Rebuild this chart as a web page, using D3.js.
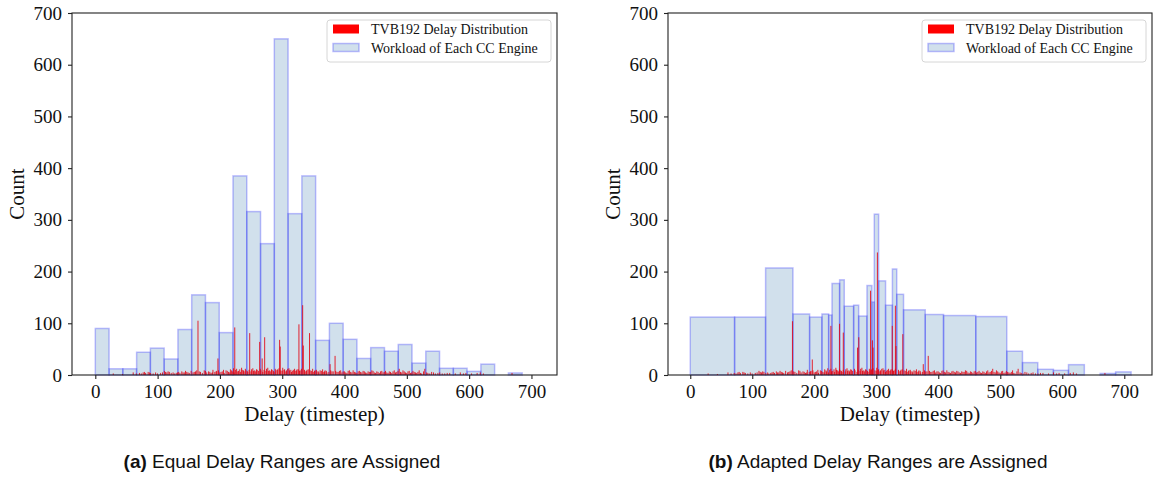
<!DOCTYPE html>
<html lang="en">
<head>
  <meta charset="UTF-8">
  <title>Delay ranges</title>
  <style>
    body { margin: 0; background: white; }
    text { fill: #111; }
  </style>
</head>
<body>
  <svg id="svg" width="1153" height="477"></svg>
  <script src="https://d3js.org/d3.v7.min.js"></script>
  <script>
    // (a) equal ranges: bins of fixed width starting at 0
    const equalBinWidth = 22.1
    const equalCounts = [90, 12, 12, 44, 52, 31, 88, 155, 140, 82, 385, 316, 254, 650, 312, 385,
      67, 100, 69, 32, 53, 46, 59, 23, 46, 13, 13, 7, 21, 0, 4]

    // (b) adapted ranges: variable bin edges
    const adaptedEdges = [0, 71.5, 121.5, 165.6, 192.5, 212.4, 223.2, 228.6, 240.9, 248.4, 263.5,
      271.6, 285, 293, 296.8, 303.8, 315, 326, 333, 344, 379, 408.5, 460.5, 510.5, 535.8, 560.5,
      585.7, 610, 635.6, 661, 686, 711]
    const adaptedCounts = [112, 112, 207, 118, 112, 118, 116, 177, 184, 133, 135, 114, 173, 141,
      311, 182, 135, 205, 156, 126, 117, 115, 113, 46, 24, 11, 9, 20, 0, 3, 6]

    // TVB192 delay distribution (per timestep): small background spikes [delay, count]
    const smallSpikes = [
      [28, 3], [43, 2], [60, 5], [65, 3], [70, 4], [73, 3], [76, 5], [78, 6], [80, 4], [84, 6], [86, 5],
      [88, 4], [92, 3], [96, 5], [99, 3], [104, 4], [107, 5], [110, 8], [112, 6], [114, 5], [116, 7],
      [118, 6], [121, 4], [124, 5], [126, 3], [129, 4], [131, 5], [133, 6], [135, 4], [138, 7], [140, 5],
      [142, 5], [144, 8], [146, 6], [148, 5], [150, 4], [153, 8], [156, 5], [158, 6], [160, 7], [162, 9],
      [166, 7], [168, 6], [171, 4], [174, 9], [176, 8], [178, 5], [181, 7], [183, 6], [185, 4], [187, 5],
      [188, 10], [191, 6], [193, 7], [194, 8], [197, 9], [199, 5], [201, 6], [203, 7], [205, 10], [206, 4],
      [209, 9], [211, 8], [213, 6], [215, 5], [216, 11], [218, 9], [219, 7], [221, 13], [222, 5], [224, 10],
      [226, 12], [227, 7], [229, 8], [231, 11], [232, 6], [234, 14], [235, 10], [237, 9], [238, 7], [240, 12],
      [241, 9], [243, 8], [244, 6], [246, 10], [249, 7], [250, 11], [252, 13], [253, 8], [255, 9], [256, 7],
      [258, 11], [259, 10], [261, 8], [264, 12], [265, 9], [268, 6], [270, 10], [273, 8], [274, 12], [276, 14],
      [277, 8], [279, 9], [280, 7], [282, 11], [283, 10], [285, 8], [286, 6], [288, 12], [289, 9], [291, 10],
      [292, 11], [294, 13], [297, 9], [299, 8], [300, 14], [302, 10], [303, 11], [305, 7], [306, 9], [308, 12],
      [310, 13], [311, 9], [313, 10], [314, 6], [316, 8], [317, 10], [319, 12], [320, 8], [322, 9], [323, 11],
      [325, 11], [327, 8], [328, 9], [330, 12], [335, 10], [336, 7], [338, 8], [339, 10], [341, 11], [344, 9],
      [346, 8], [348, 12], [349, 6], [351, 8], [352, 9], [354, 10], [355, 7], [357, 7], [358, 5], [360, 9],
      [362, 8], [364, 11], [365, 6], [367, 7], [368, 9], [370, 8], [371, 5], [374, 6], [377, 9], [379, 7],
      [381, 7], [385, 8], [387, 6], [389, 6], [391, 8], [393, 9], [395, 5], [397, 7], [399, 7], [401, 5],
      [403, 4], [405, 8], [407, 9], [409, 6], [411, 5], [413, 9], [415, 6], [417, 5], [419, 4], [421, 7],
      [423, 8], [425, 6], [427, 5], [429, 8], [431, 7], [433, 5], [435, 4], [437, 7], [439, 6], [441, 6],
      [443, 9], [445, 8], [447, 5], [449, 4], [451, 7], [453, 6], [455, 4], [457, 7], [459, 8], [461, 5],
      [463, 6], [465, 8], [467, 5], [469, 4], [471, 7], [473, 6], [475, 4], [477, 7], [479, 9], [481, 5],
      [483, 6], [485, 8], [487, 12], [489, 6], [491, 5], [493, 9], [495, 7], [497, 5], [499, 4], [501, 7],
      [503, 8], [505, 4], [507, 5], [509, 8], [511, 6], [513, 5], [515, 4], [517, 6], [519, 9], [521, 4],
      [523, 3], [526, 7], [528, 12], [531, 5], [533, 4], [536, 3], [539, 6], [542, 5], [545, 3], [549, 4],
      [552, 5], [556, 3], [560, 3], [564, 4], [568, 4], [577, 3], [585, 5], [590, 3], [594, 4], [603, 3],
      [612, 4], [617, 5], [622, 3], [668, 4]
    ]

    // tall spikes, as seen in each panel
    const spikeDelaysA = [164, 196, 223, 247, 263, 267, 271, 295, 296, 326, 332, 333, 343, 376, 384]
    const spikeCountsA = [105, 32, 92, 81, 64, 32, 73, 68, 55, 98, 135, 57, 81, 21, 37]
    const spikeDelaysB = [164, 196, 226, 240, 246, 269, 271, 290, 293, 294, 301, 325, 330, 331, 342, 375, 383]
    const spikeCountsB = [104, 30, 95, 99, 82, 53, 73, 163, 67, 53, 237, 95, 134, 56, 79, 21, 37]

    const yTicks = [0, 100, 200, 300, 400, 500, 600, 700]
    const xTicks = [0, 100, 200, 300, 400, 500, 600, 700]
    const legendLabels = ['TVB192 Delay Distribution', 'Workload of Each CC Engine']

    const svg = d3.select('#svg')
    const serif = 'Liberation Serif, DejaVu Serif, serif'

    function panel(opt) {
      const x = d3.scaleLinear().domain(opt.xDomain).range([opt.left, opt.right])
      const y = d3.scaleLinear().domain([0, 700]).range([375, 13])
      const g = svg.append('g')

      // workload bars
      g.selectAll('rect.work')
        .data(opt.bins)
        .enter()
        .append('rect')
        .attr('class', 'work')
        .attr('x', d => x(d.x0))
        .attr('width', d => x(d.x1) - x(d.x0))
        .attr('y', d => y(d.count))
        .attr('height', d => y(0) - y(d.count))
        .attr('fill', 'steelblue')
        .attr('fill-opacity', 0.25)
        .attr('stroke', 'blue')
        .attr('stroke-opacity', 0.25)
        .attr('stroke-width', 1.5)

      // delay spikes
      const spikes = smallSpikes.map(d => ({ delay: d[0], count: d[1] }))
        .concat(opt.spikeDelays.map((d, i) => ({ delay: d, count: opt.spikeCounts[i] })))
      g.selectAll('rect.tvb')
        .data(spikes)
        .enter()
        .append('rect')
        .attr('class', 'tvb')
        .attr('x', d => x(d.delay))
        .attr('width', d => Math.max(1, x(d.delay + 1) - x(d.delay)))
        .attr('y', d => y(d.count))
        .attr('height', d => y(0) - y(d.count))
        .attr('fill', '#e3000f')
        .attr('opacity', 0.85)

      // axes
      const xAxis = g.append('g')
        .attr('transform', 'translate(0,375)')
        .call(d3.axisBottom(x).tickValues(xTicks).tickSize(4).tickPadding(6).tickSizeOuter(0))
      const yAxis = g.append('g')
        .attr('transform', `translate(${opt.left},0)`)
        .call(d3.axisLeft(y).tickValues(yTicks).tickSize(4).tickPadding(6).tickSizeOuter(0))
      for (const ax of [xAxis, yAxis]) {
        ax.select('.domain').remove()
        ax.selectAll('line').attr('stroke', '#222').attr('stroke-width', 1.1)
        ax.selectAll('text').style('font-family', serif).style('font-size', '19px').attr('fill', '#111')
      }

      // frame
      g.append('rect')
        .attr('x', opt.left).attr('y', 13)
        .attr('width', opt.right - opt.left).attr('height', 362)
        .attr('fill', 'none').attr('stroke', '#222').attr('stroke-width', 1.1)

      g.append('text')
        .attr('x', (opt.left + opt.right) / 2).attr('y', 421)
        .attr('text-anchor', 'middle')
        .style('font-family', serif).style('font-size', '21px')
        .text('Delay (timestep)')
      g.append('text')
        .attr('transform', `translate(${opt.left - 48},194) rotate(-90)`)
        .attr('text-anchor', 'middle')
        .style('font-family', serif).style('font-size', '21px')
        .text('Count')

      // legend
      const lg = g.append('g').attr('transform', `translate(${opt.right - 230},20)`)
      lg.append('rect')
        .attr('width', 224).attr('height', 42).attr('rx', 3)
        .attr('fill', 'white').attr('fill-opacity', 0.8)
        .attr('stroke', '#d6d6d6').attr('stroke-width', 1)
      lg.append('rect')
        .attr('x', 6).attr('y', 4.5).attr('width', 26).attr('height', 9)
        .attr('fill', 'red')
      lg.append('rect')
        .attr('x', 6).attr('y', 23.5).attr('width', 26).attr('height', 8)
        .attr('fill', 'steelblue').attr('fill-opacity', 0.25)
        .attr('stroke', 'blue').attr('stroke-opacity', 0.25).attr('stroke-width', 1.5)
      lg.selectAll('text.lab')
        .data(legendLabels)
        .enter()
        .append('text')
        .attr('class', 'lab')
        .attr('x', 44)
        .attr('y', (d, i) => 14 + i * 18.5)
        .style('font-family', serif).style('font-size', '14px')
        .text(d => d)

      // caption
      const cap = svg.append('text')
        .attr('x', opt.capX).attr('y', 468)
        .attr('text-anchor', 'middle')
        .style('font-family', 'Liberation Sans, Arial, sans-serif').style('font-size', '19px')
      cap.append('tspan').style('font-weight', 'bold').text(opt.capTag)
      cap.append('tspan').text(' ' + opt.capText)
    }

    panel({
      left: 72, right: 557, xDomain: [-37.4, 741],
      bins: equalCounts.map((c, i) => ({ x0: i * equalBinWidth, x1: (i + 1) * equalBinWidth, count: c })),
      spikeDelays: spikeDelaysA, spikeCounts: spikeCountsA,
      capX: 282, capTag: '(a)', capText: 'Equal Delay Ranges are Assigned'
    })
    panel({
      left: 668, right: 1152, xDomain: [-35.9, 744.7],
      bins: adaptedCounts.map((c, i) => ({ x0: adaptedEdges[i], x1: adaptedEdges[i + 1], count: c })),
      spikeDelays: spikeDelaysB, spikeCounts: spikeCountsB,
      capX: 878, capTag: '(b)', capText: 'Adapted Delay Ranges are Assigned'
    })
  </script>
</body>
</html>
